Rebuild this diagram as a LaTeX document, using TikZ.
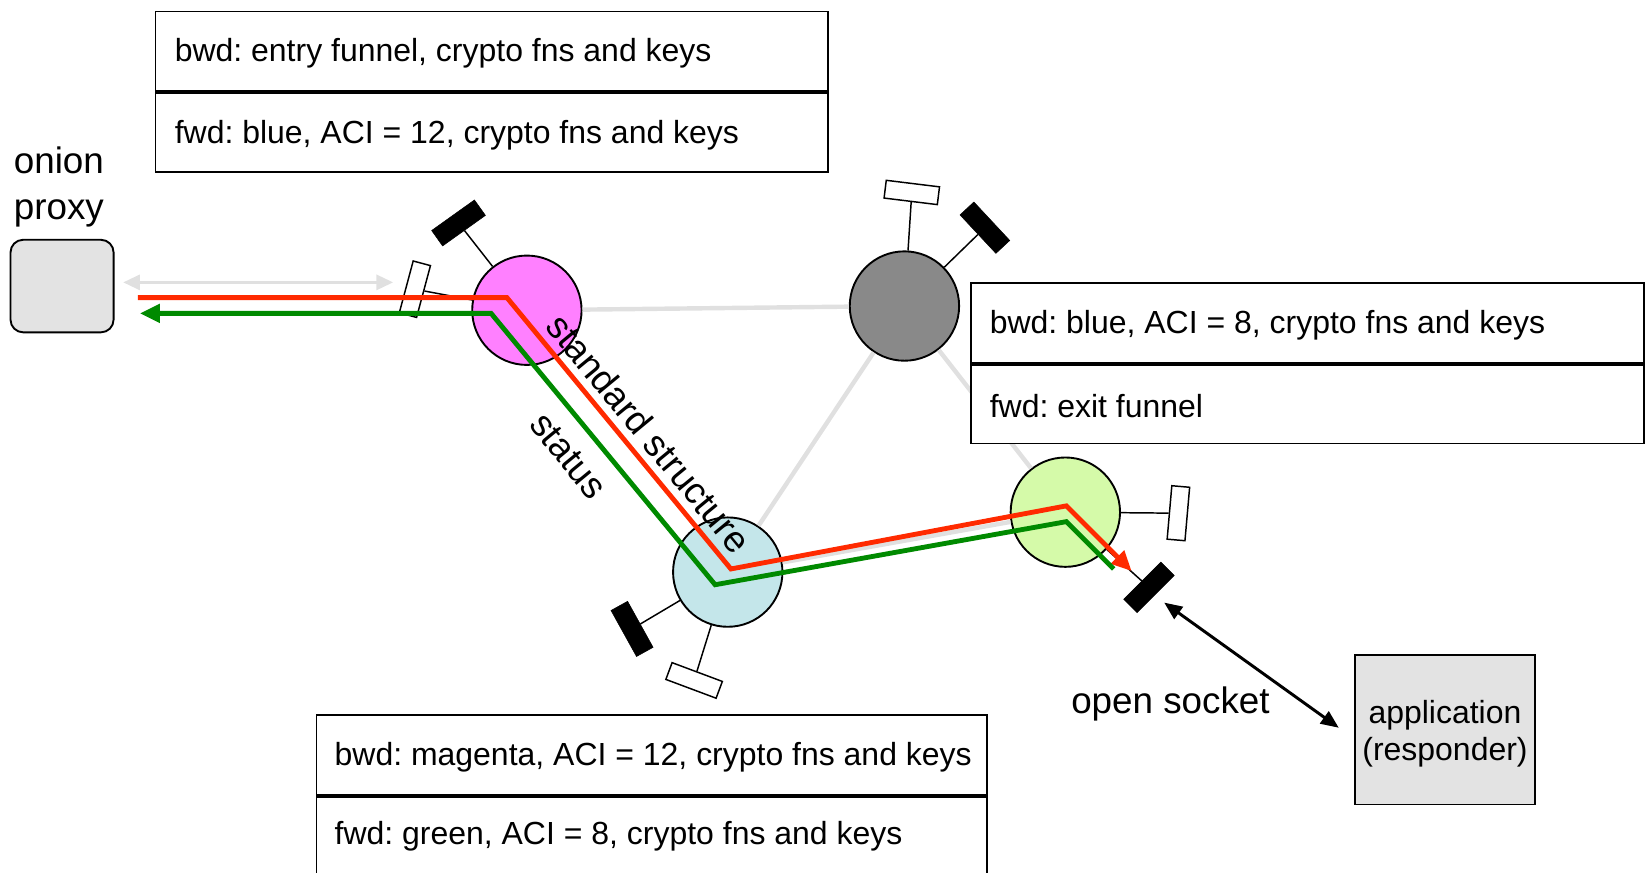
\documentclass[tikz,border=0pt]{standalone}
\usepackage{fontspec}
\setmainfont{Liberation Sans}
\usetikzlibrary{arrows.meta,calc}

\definecolor{routerpink}{HTML}{FF80FF}
\definecolor{routergray}{HTML}{898989}
\definecolor{routerblue}{HTML}{C4E6EA}
\definecolor{routergreen}{HTML}{D5FAA9}
\definecolor{hostgray}{HTML}{E3E3E3}
\definecolor{linkgray}{HTML}{E0E0E0}
\definecolor{fwdred}{HTML}{FF2A00}
\definecolor{bwdgreen}{HTML}{008A00}

\frenchspacing
\begin{document}
\begin{tikzpicture}[x=1pt,y=1pt,
  router/.style={circle, draw=black, line width=1.8, minimum size=104, inner sep=0},
  blackpad/.style={rectangle, fill=black, draw=black, line width=0.5, minimum width=50, minimum height=18, inner sep=0},
  whitepad/.style={rectangle, fill=white, draw=black, line width=1.4, minimum width=51, minimum height=17, inner sep=0},
  stub/.style={draw=black, line width=1.4},
  link/.style={draw=linkgray, line width=4.2},
  host/.style={draw=black, fill=hostgray, line width=1.8, inner sep=0},
  row/.style={draw=black, fill=white, line width=1.8, anchor=north west, minimum height=76, inner sep=0},
  rowtext/.style={anchor=west, inner sep=0, font=\fontsize{30.4}{36}\selectfont},
  lbl/.style={inner sep=0, font=\fontsize{35}{44}\selectfont},
  tipbig/.tip={Triangle[length=19,width=17]},
  tipmid/.tip={Triangle[length=17,width=14]},
  fwdpath/.style={draw=fwdred, line width=4.6, -tipbig},
  bwdpath/.style={draw=bwdgreen, line width=4.6, -tipbig},
]
\useasboundingbox (0,0) rectangle (1568,-830);

% routers
\node[router, fill=routerpink]  (P) at (501,-295) {};
\node[router, fill=routergray]  (G) at (860,-291) {};
\node[router, fill=routerblue]  (B) at (692,-544) {};
\node[router, fill=routergreen] (N) at (1013,-487) {};

% links between routers
\draw[link] (P) -- (G);
\draw[link] (G) -- (B);
\draw[link] (G) -- (N);
\draw[link] (B) -- (N);

% connection pads on each router
\node[blackpad, rotate=35.5] (Pb) at (436,-212) {};
\node[whitepad, rotate=75]   (Pw) at (394.5,-275) {};
\node[whitepad, rotate=-7]   (Gw) at (867,-183) {};
\node[blackpad, rotate=-47]  (Gb) at (936.5,-216.5) {};
\node[blackpad, rotate=-61]  (Bb) at (601,-598) {};
\node[whitepad, rotate=-20.5] (Bw) at (660,-647) {};
\node[whitepad, rotate=85]   (Nw) at (1120.5,-488) {};
\node[blackpad, rotate=45]   (Nb) at (1092.5,-558.5) {};

\draw[stub] (P) -- (Pb);
\draw[stub] (P) -- (Pw);
\draw[stub] (G) -- (Gw);
\draw[stub] (G) -- (Gb);
\draw[stub] (B) -- (Bb);
\draw[stub] (B) -- (Bw);
\draw[stub] (N) -- (Nw);
\draw[stub] (N) -- (Nb);

% hosts
\node[host, rounded corners=12, minimum width=98, minimum height=88] (OP) at (59,-272) {};
\node[host, minimum width=172, minimum height=142] (APP) at (1374,-694) {};
\node[align=center, inner sep=0, font=\fontsize{30.4}{35}\selectfont] (APPL) at (1374,-698) {application\\(responder)};

% state tables: two rows each
\node[row, minimum width=639] (T1) at (147,-10) {};
\node[row, minimum width=639, minimum height=75] (T2) at (T1.south west) {};
\node[row, minimum width=640] (R1) at (922,-268) {};
\node[row, minimum width=640, minimum height=75] (R2) at (R1.south west) {};
\node[row, minimum width=638] (M1) at (300,-679) {};
\node[row, minimum width=638, minimum height=84] (M2) at (M1.south west) {};

\node[rowtext] (T1t) at ([xshift=19,yshift=-2]T1.west) {bwd: entry funnel, crypto fns and keys};
\node[rowtext] (T2t) at ([xshift=19,yshift=-2]T2.west) {fwd: blue, ACI = 12, crypto fns and keys};
\node[rowtext] (R1t) at ([xshift=19,yshift=-2]R1.west) {bwd: blue, ACI = 8, crypto fns and keys};
\node[rowtext] (R2t) at ([xshift=19,yshift=-2]R2.west) {fwd: exit funnel};
\node[rowtext] (M1t) at ([xshift=18,yshift=-2]M1.west) {bwd: magenta, ACI = 12, crypto fns and keys};
\node[rowtext] (M2t) at (318,-795) {fwd: green, ACI = 8, crypto fns and keys};

% client side link
\coordinate (gaL) at (117,-268.5);
\coordinate (gaR) at (374,-268.5);
\draw[draw=linkgray, line width=3.4, {Triangle[length=16,width=14]}-{Triangle[length=16,width=14]}] (gaL) -- (gaR);

% forward (red) and backward (green) cells
\coordinate (rA) at (131,-283);
\coordinate (rB) at (482,-283);
\coordinate (rC) at (695,-541);
\coordinate (rD) at (1014,-481);
\coordinate (rE) at (1076,-543);
\draw[fwdpath] (rA) -- (rB) -- (rC) -- (rD) -- (rE);

\coordinate (gA) at (1059,-541);
\coordinate (gB) at (1014,-496);
\coordinate (gC) at (680,-556);
\coordinate (gD) at (467,-298);
\coordinate (gE) at (133,-298);
\draw[bwdpath] (gA) -- (gB) -- (gC) -- (gD) -- (gE);

% socket to the responder
\coordinate (saT) at (1107,-573);
\coordinate (saB) at (1273,-692);
\draw[line width=2.8, tipmid-tipmid] (saT) -- (saB);

% labels
\node[lbl, anchor=west, align=left] (OPL) at (13,-178) {onion\\proxy};
\node[lbl] (SOCK) at (1113,-669) {open socket};
\node[lbl, rotate=-50.45] (STD) at (617,-412) {standard structure};
\node[lbl, rotate=-50.45] (STAT) at (540.5,-433.5) {status};
\end{tikzpicture}
\end{document}
